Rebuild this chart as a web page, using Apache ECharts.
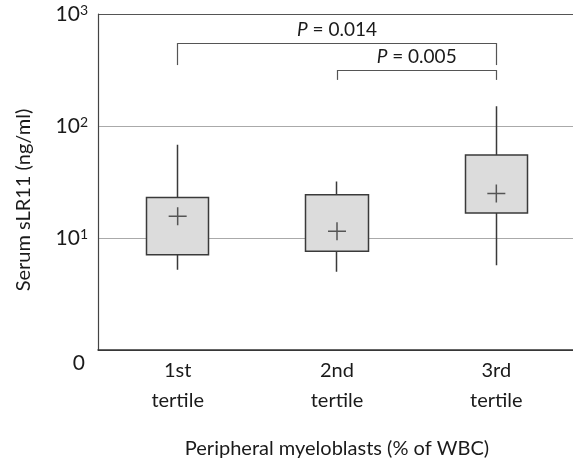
<!DOCTYPE html>
<html>
<head>
<meta charset="utf-8">
<script src="https://cdn.jsdelivr.net/npm/echarts@6/dist/echarts.min.js"></script>
<style>
html, body { margin: 0; padding: 0; background: #fff; }
#chart { width: 573px; height: 462px; }
</style>
</head>
<body>
<div id="chart"></div>
<script>
var categories = ['1st\ntertile', '2nd\ntertile', '3rd\ntertile'];
var boxBottom = [7.1, 7.6, 16.7];
var boxTop = [23, 24.3, 55];
var whiskerLow = [5.2, 5.0, 5.7];
var whiskerHigh = [68, 32, 150];
var means = [15.6, 11.5, 25];
// brackets: from category, to category, top value, tick end value, p text
var bracketFrom = [0, 1];
var bracketTo = [2, 2];
var bracketTop = [550, 316];
var bracketEnd = [350, 258];
var pValues = ['0.014', '0.005'];

var font = 'Lato';
var txt = '#1a1a1a';
var myChart = echarts.init(document.getElementById('chart'));

var boxData = categories.map(function (c, i) {
    return [boxBottom[i], boxTop[i], whiskerLow[i], whiskerHigh[i]];
});

var lineData = [];
for (var k = 0; k < bracketFrom.length; k++) {
    var a = bracketFrom[k], b = bracketTo[k];
    lineData.push([{ coord: [a, bracketEnd[k]] }, { coord: [a, bracketTop[k]] }]);
    lineData.push([
        {
            coord: [a, bracketTop[k]],
            label: {
                show: true,
                position: 'middle',
                distance: 4,
                formatter: '{i|P} = ' + pValues[k],
                fontFamily: font,
                fontSize: 19,
                color: txt,
                rich: { i: { fontStyle: 'italic', fontFamily: font, fontSize: 19, color: txt } }
            }
        },
        { coord: [b, bracketTop[k]] }
    ]);
    lineData.push([{ coord: [b, bracketTop[k]] }, { coord: [b, bracketEnd[k]] }]);
}

option = {
    animation: false,
    grid: {
        left: 98,
        right: -3,
        top: 14,
        bottom: 112,
        outerBoundsMode: 'none'
    },
    xAxis: {
        type: 'category',
        data: categories,
        axisTick: { show: false },
        axisLine: { lineStyle: { color: '#333', width: 1.5 } },
        axisLabel: {
            fontFamily: font,
            fontSize: 20,
            color: txt,
            lineHeight: 30,
            margin: 6
        },
        name: 'Peripheral myeloblasts (% of WBC)',
        nameLocation: 'middle',
        nameGap: 89,
        nameTextStyle: { fontFamily: font, fontSize: 20, color: txt }
    },
    yAxis: {
        type: 'log',
        logBase: 10,
        min: 1,
        max: 1000,
        axisLine: { show: true, lineStyle: { color: '#444', width: 1.2 } },
        axisTick: { show: false },
        splitLine: {
            show: true,
            lineStyle: { color: ['#444', '#aaa', '#aaa', '#555'], width: 1.2 }
        },
        axisLabel: {
            margin: 10,
            fontFamily: font,
            fontSize: 21,
            color: txt,
            formatter: function (v) {
                if (v <= 1) return '{z|0}';
                return '10{sup|' + Math.round(Math.log10(v)) + '}';
            },
            rich: {
                sup: { fontFamily: font, fontSize: 14, color: txt, verticalAlign: 'top', padding: [0, 0, 8, 0] },
                z: { fontFamily: font, fontSize: 21, color: txt, padding: [26, 3, 0, 0] }
            }
        },
        name: 'Serum sLR11 (ng/ml)',
        nameLocation: 'middle',
        nameGap: 64,
        nameTextStyle: { fontFamily: font, fontSize: 20, color: txt, padding: [0, 36, 0, 0] }
    },
    series: [
        {
            type: 'candlestick',
            data: boxData,
            barWidth: 63,
            silent: true,
            itemStyle: {
                color: '#dcdcdc',
                color0: '#dcdcdc',
                borderColor: '#3a3a3a',
                borderColor0: '#3a3a3a',
                borderWidth: 1.5
            }
        },
        {
            type: 'scatter',
            data: means,
            symbol: 'path://M0,8.25h18v1.5h-18z M8.25,0h1.5v18h-1.5z',
            symbolSize: 18,
            silent: true,
            itemStyle: { color: '#333' },
            z: 5,
            markLine: {
                silent: true,
                symbol: ['none', 'none'],
                label: { show: false },
                lineStyle: { type: 'solid', color: '#555', width: 1.2 },
                data: lineData
            }
        }
    ]
};
myChart.setOption(option);
</script>
</body>
</html>
